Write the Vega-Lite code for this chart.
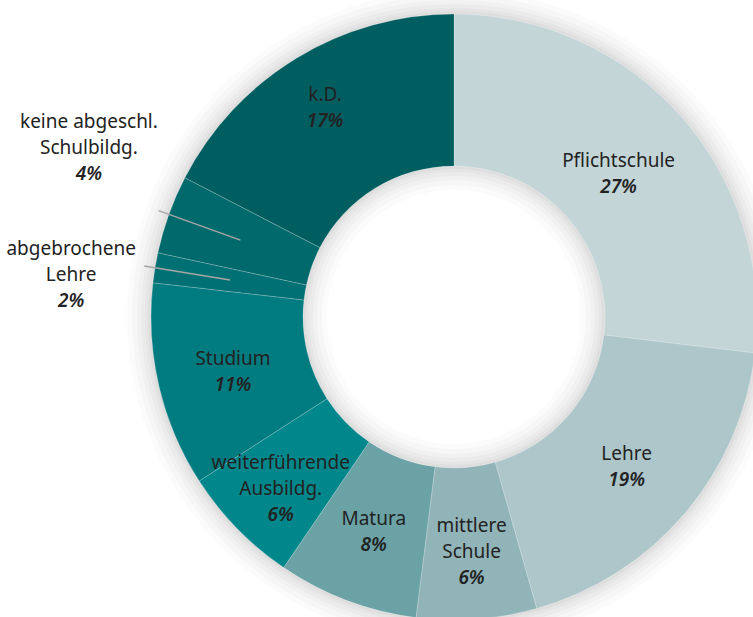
{
  "$schema": "https://vega.github.io/schema/vega-lite/v6.json",
  "width": 908,
  "height": 634,
  "autosize": "none",
  "padding": 0,
  "background": "#ffffff",
  "view": {"stroke": null},
  "config": {"text": {"font": "Noto Sans", "fontSize": 19, "color": "#222222", "lineHeight": 26}},
  "data": {
    "values": [
      {"idx": 1, "name": "Pflichtschule", "value": 26.9, "lines": ["Pflichtschule"], "pct": "27%"},
      {"idx": 2, "name": "Lehre", "value": 18.7, "lines": ["Lehre"], "pct": "19%"},
      {"idx": 3, "name": "mittlere Schule", "value": 6.4, "lines": ["mittlere", "Schule"], "pct": "6%"},
      {"idx": 4, "name": "Matura", "value": 7.5, "lines": ["Matura"], "pct": "8%"},
      {"idx": 5, "name": "weiterführende Ausbildg.", "value": 6.4, "lines": ["weiterführende", "Ausbildg."], "pct": "6%"},
      {"idx": 6, "name": "Studium", "value": 10.9, "lines": ["Studium"], "pct": "11%"},
      {"idx": 7, "name": "abgebrochene Lehre", "value": 1.6, "lines": ["abgebrochene", "Lehre"], "pct": "2%"},
      {"idx": 8, "name": "keine abgeschl. Schulbildg.", "value": 4.2, "lines": ["keine abgeschl.", "Schulbildg."], "pct": "4%"},
      {"idx": 9, "name": "k.D.", "value": 17.4, "lines": ["k.D."], "pct": "17%"}
    ]
  },
  "layer": [
    {"data": {"values": [{}]}, "mark": {"type": "arc", "radius": 327, "radius2": 127, "fill": "#000000", "opacity": 0.016}, "encoding": {"theta": {"value": 0}, "theta2": {"value": 6.2832}}},
    {"data": {"values": [{}]}, "mark": {"type": "arc", "radius": 322, "radius2": 132, "fill": "#000000", "opacity": 0.018}, "encoding": {"theta": {"value": 0}, "theta2": {"value": 6.2832}}},
    {"data": {"values": [{}]}, "mark": {"type": "arc", "radius": 317, "radius2": 137, "fill": "#000000", "opacity": 0.02}, "encoding": {"theta": {"value": 0}, "theta2": {"value": 6.2832}}},
    {"data": {"values": [{}]}, "mark": {"type": "arc", "radius": 313, "radius2": 141, "fill": "#000000", "opacity": 0.022}, "encoding": {"theta": {"value": 0}, "theta2": {"value": 6.2832}}},
    {"data": {"values": [{}]}, "mark": {"type": "arc", "radius": 309, "radius2": 145, "fill": "#000000", "opacity": 0.025}, "encoding": {"theta": {"value": 0}, "theta2": {"value": 6.2832}}},
    {"data": {"values": [{}]}, "mark": {"type": "arc", "radius": 306, "radius2": 148, "fill": "#000000", "opacity": 0.028}, "encoding": {"theta": {"value": 0}, "theta2": {"value": 6.2832}}},
    {
      "mark": {"type": "arc", "radius": 303, "radius2": 151, "stroke": "#ffffff", "strokeWidth": 0.6, "strokeOpacity": 0.35},
      "encoding": {
        "theta": {"field": "value", "type": "quantitative", "stack": true, "scale": {"domain": [0, 100]}},
        "order": {"field": "idx", "type": "quantitative"},
        "color": {
          "field": "name", "type": "nominal", "legend": null,
          "scale": {
            "domain": ["Pflichtschule", "Lehre", "mittlere Schule", "Matura", "weiterführende Ausbildg.", "Studium", "abgebrochene Lehre", "keine abgeschl. Schulbildg.", "k.D."],
            "range": ["#c4d5d8", "#adc6ca", "#91b4b8", "#6aa2a6", "#00878b", "#007b80", "#007074", "#00696c", "#005e60"]
          }
        }
      }
    },
    {
      "transform": [
        {"stack": "value", "groupby": [], "sort": [{"field": "idx"}], "as": ["s0", "s1"]},
        {"filter": "datum.idx == 7 || datum.idx == 8"},
        {"fold": ["s0", "s1"], "as": ["k", "v"]},
        {"aggregate": [{"op": "mean", "field": "v", "as": "mid"}], "groupby": ["name"]}
      ],
      "mark": {"type": "arc", "radius": 314, "radius2": 227, "filled": false, "stroke": "#a6a6a6", "strokeWidth": 1.5},
      "encoding": {
        "theta": {"field": "mid", "type": "quantitative", "stack": null, "scale": {"domain": [0, 100]}},
        "theta2": {"field": "mid"}
      }
    },
    {
      "mark": {"type": "text", "radius": 227, "align": "center", "baseline": "middle", "dy": -10},
      "encoding": {
        "theta": {"field": "value", "type": "quantitative", "stack": true},
        "order": {"field": "idx", "type": "quantitative"},
        "detail": {"field": "name"},
        "text": {"condition": {"test": "indexof([2,4,6], datum.idx) >= 0", "field": "lines", "type": "nominal"}, "value": ""}
      }
    },
    {
      "mark": {"type": "text", "radius": 227, "align": "center", "baseline": "middle", "dy": 16, "fontStyle": "italic", "fontWeight": 600},
      "encoding": {
        "theta": {"field": "value", "type": "quantitative", "stack": true},
        "order": {"field": "idx", "type": "quantitative"},
        "detail": {"field": "name"},
        "text": {"condition": {"test": "indexof([2,4,6], datum.idx) >= 0", "field": "pct", "type": "nominal"}, "value": ""}
      }
    },
    {
      "mark": {"type": "text", "radius": 220, "align": "center", "baseline": "middle", "dy": -10},
      "encoding": {
        "theta": {"field": "value", "type": "quantitative", "stack": true},
        "order": {"field": "idx", "type": "quantitative"},
        "detail": {"field": "name"},
        "text": {"condition": {"test": "datum.idx == 1", "field": "lines", "type": "nominal"}, "value": ""}
      }
    },
    {
      "mark": {"type": "text", "radius": 220, "align": "center", "baseline": "middle", "dy": 16, "fontStyle": "italic", "fontWeight": 600},
      "encoding": {
        "theta": {"field": "value", "type": "quantitative", "stack": true},
        "order": {"field": "idx", "type": "quantitative"},
        "detail": {"field": "name"},
        "text": {"condition": {"test": "datum.idx == 1", "field": "pct", "type": "nominal"}, "value": ""}
      }
    },
    {
      "mark": {"type": "text", "radius": 248, "align": "center", "baseline": "middle", "dy": -10},
      "encoding": {
        "theta": {"field": "value", "type": "quantitative", "stack": true},
        "order": {"field": "idx", "type": "quantitative"},
        "detail": {"field": "name"},
        "text": {"condition": {"test": "datum.idx == 9", "field": "lines", "type": "nominal"}, "value": ""}
      }
    },
    {
      "mark": {"type": "text", "radius": 248, "align": "center", "baseline": "middle", "dy": 16, "fontStyle": "italic", "fontWeight": 600},
      "encoding": {
        "theta": {"field": "value", "type": "quantitative", "stack": true},
        "order": {"field": "idx", "type": "quantitative"},
        "detail": {"field": "name"},
        "text": {"condition": {"test": "datum.idx == 9", "field": "pct", "type": "nominal"}, "value": ""}
      }
    },
    {
      "mark": {"type": "text", "radius": 233, "align": "center", "baseline": "middle", "dy": -23},
      "encoding": {
        "theta": {"field": "value", "type": "quantitative", "stack": true},
        "order": {"field": "idx", "type": "quantitative"},
        "detail": {"field": "name"},
        "text": {"condition": {"test": "datum.idx == 3", "field": "lines", "type": "nominal"}, "value": ""}
      }
    },
    {
      "mark": {"type": "text", "radius": 233, "align": "center", "baseline": "middle", "dy": 29, "fontStyle": "italic", "fontWeight": 600},
      "encoding": {
        "theta": {"field": "value", "type": "quantitative", "stack": true},
        "order": {"field": "idx", "type": "quantitative"},
        "detail": {"field": "name"},
        "text": {"condition": {"test": "datum.idx == 3", "field": "pct", "type": "nominal"}, "value": ""}
      }
    },
    {
      "mark": {"type": "text", "radius": 242, "align": "center", "baseline": "middle", "dy": -23},
      "encoding": {
        "theta": {"field": "value", "type": "quantitative", "stack": true},
        "order": {"field": "idx", "type": "quantitative"},
        "detail": {"field": "name"},
        "text": {"condition": {"test": "datum.idx == 5", "field": "lines", "type": "nominal"}, "value": ""}
      }
    },
    {
      "mark": {"type": "text", "radius": 242, "align": "center", "baseline": "middle", "dy": 29, "fontStyle": "italic", "fontWeight": 600},
      "encoding": {
        "theta": {"field": "value", "type": "quantitative", "stack": true},
        "order": {"field": "idx", "type": "quantitative"},
        "detail": {"field": "name"},
        "text": {"condition": {"test": "datum.idx == 5", "field": "pct", "type": "nominal"}, "value": ""}
      }
    },
    {
      "mark": {"type": "text", "radius": 388, "align": "center", "baseline": "middle", "dy": -64},
      "encoding": {
        "theta": {"field": "value", "type": "quantitative", "stack": true},
        "order": {"field": "idx", "type": "quantitative"},
        "detail": {"field": "name"},
        "text": {"condition": {"test": "datum.idx == 8", "field": "lines", "type": "nominal"}, "value": ""}
      }
    },
    {
      "mark": {"type": "text", "radius": 388, "align": "center", "baseline": "middle", "dy": -12, "fontStyle": "italic", "fontWeight": 600},
      "encoding": {
        "theta": {"field": "value", "type": "quantitative", "stack": true},
        "order": {"field": "idx", "type": "quantitative"},
        "detail": {"field": "name"},
        "text": {"condition": {"test": "datum.idx == 8", "field": "pct", "type": "nominal"}, "value": ""}
      }
    },
    {
      "mark": {"type": "text", "radius": 388, "align": "center", "baseline": "middle", "dy": -5},
      "encoding": {
        "theta": {"field": "value", "type": "quantitative", "stack": true},
        "order": {"field": "idx", "type": "quantitative"},
        "detail": {"field": "name"},
        "text": {"condition": {"test": "datum.idx == 7", "field": "lines", "type": "nominal"}, "value": ""}
      }
    },
    {
      "mark": {"type": "text", "radius": 388, "align": "center", "baseline": "middle", "dy": 47, "fontStyle": "italic", "fontWeight": 600},
      "encoding": {
        "theta": {"field": "value", "type": "quantitative", "stack": true},
        "order": {"field": "idx", "type": "quantitative"},
        "detail": {"field": "name"},
        "text": {"condition": {"test": "datum.idx == 7", "field": "pct", "type": "nominal"}, "value": ""}
      }
    }
  ]
}
